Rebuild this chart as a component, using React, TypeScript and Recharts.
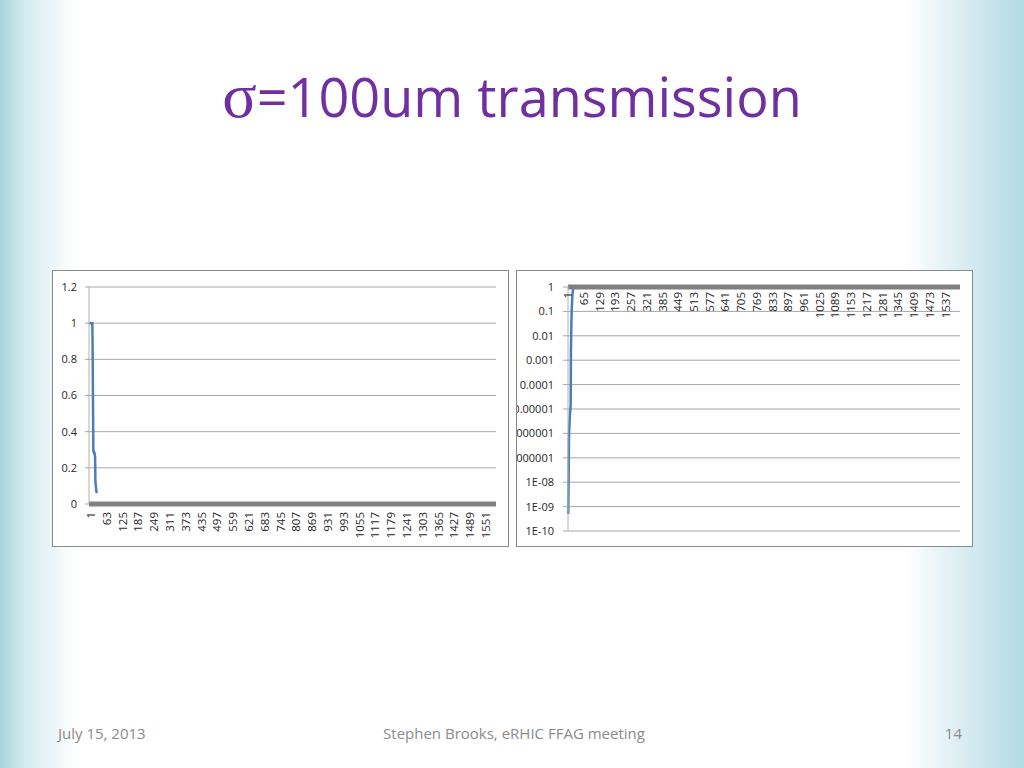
import { CartesianGrid, Line, LineChart, XAxis, YAxis } from "recharts";

// turn number (category index) for the visible part of each series
const linearTurns = [
  1, 2, 3, 4, 5, 6, 7, 8, 9, 10, 11, 12, 13, 14, 15, 16, 17, 18, 19, 20, 21,
  22, 23, 24, 25, 26, 27, 28, 29, 30,
];
const linearTransmission = [
  1, 1, 1, 1, 1, 1, 1, 1, 1, 1, 1, 1, 1, 0.9, 0.7, 0.5, 0.3, 0.29, 0.29, 0.28,
  0.28, 0.28, 0.27, 0.26, 0.13, 0.11, 0.1, 0.08, 0.07, 0.06,
];

const logTurns = [
  1, 2, 3, 4, 5, 6, 7, 8, 9, 10, 11, 12, 13, 14, 15, 16, 17, 18, 19, 20, 21,
  22, 23, 24,
];
const logTransmission = [
  5e-10, 3e-9, 4e-8, 7e-7, 1.5e-6, 2.5e-6, 4e-6, 6e-6, 8e-6, 1e-5, 1.4e-5,
  3e-3, 0.01, 0.04, 0.1, 0.2, 0.3, 0.45, 0.6, 0.7, 0.8, 0.9, 0.95, 1,
];

const linearXTicks = [
  1, 63, 125, 187, 249, 311, 373, 435, 497, 559, 621, 683, 745, 807, 869, 931,
  993, 1055, 1117, 1179, 1241, 1303, 1365, 1427, 1489, 1551,
];
const linearYTicks = [0, 0.2, 0.4, 0.6, 0.8, 1, 1.2];

const logXTicks = [
  1, 65, 129, 193, 257, 321, 385, 449, 513, 577, 641, 705, 769, 833, 897, 961,
  1025, 1089, 1153, 1217, 1281, 1345, 1409, 1473, 1537,
];
const logYTicks = [1e-10, 1e-9, 1e-8, 1e-7, 1e-6, 1e-5, 1e-4, 1e-3, 0.01, 0.1, 1];
const logYLabels = [
  "1E-10", "1E-09", "1E-08", "0.0000001", "0.000001", "0.00001", "0.0001",
  "0.001", "0.01", "0.1", "1",
];

const linearData = linearTurns.map((x, i) => ({ x, t: linearTransmission[i] }));
const logData = logTurns.map((x, i) => ({ x, t: logTransmission[i] }));

const FONT = "'Open Sans', sans-serif";
const LABEL = "#262626";
const GRID = "#a6a6a6";
const BLUE = "#4a7ebb";

function RotatedTick(props: any) {
  const { x, y, payload, shift } = props;
  return (
    <text
      x={x}
      y={y}
      dy={shift}
      transform={`rotate(-90 ${x} ${y})`}
      textAnchor="end"
      fill={LABEL}
      fontSize={11.5}
      fontFamily={FONT}
    >
      {payload.value}
    </text>
  );
}

const boxStyle: React.CSSProperties = {
  position: "absolute",
  top: 270,
  width: 457,
  height: 277,
  boxSizing: "border-box",
  border: "1px solid #8a8a8a",
  background: "#ffffff",
  overflow: "hidden",
};

function LinearChart() {
  return (
    <LineChart
      data={linearData}
      height={275}
      margin={{ top: 16, right: 12, bottom: 0, left: 0 }}
      width={455}
    >
      <CartesianGrid horizontal stroke={GRID} vertical={false} />
      <XAxis
        axisLine={{ stroke: "#808080", strokeWidth: 5 }}
        dataKey="x"
        domain={[0, 1597]}
        height={42}
        interval={0}
        tick={(p: any) => <RotatedTick {...p} shift="0.5em" />}
        tickLine={false}
        tickMargin={8}
        tickSize={0}
        ticks={linearXTicks}
        type="number"
      />
      <YAxis
        axisLine={{ stroke: "#b0b0b0" }}
        domain={[0, 1.2]}
        interval={0}
        tick={{ fill: LABEL, fontSize: 11, fontFamily: FONT }}
        tickLine={{ stroke: GRID }}
        tickMargin={8}
        tickSize={4}
        ticks={linearYTicks}
        type="number"
        width={36}
      />
      <Line
        dataKey="t"
        dot={false}
        isAnimationActive={false}
        stroke={BLUE}
        strokeWidth={2.5}
        type="linear"
      />
    </LineChart>
  );
}

function LogChart() {
  return (
    <LineChart
      data={logData}
      height={275}
      margin={{ top: 16, right: 12, bottom: 15, left: 0 }}
      width={455}
    >
      <CartesianGrid horizontal stroke={GRID} vertical={false} />
      <XAxis
        axisLine={{ stroke: "#808080", strokeWidth: 5 }}
        dataKey="x"
        domain={[0, 1596]}
        interval={0}
        mirror
        orientation="top"
        tick={(p: any) => <RotatedTick {...p} shift="0.35em" />}
        tickLine={false}
        tickMargin={5}
        tickSize={0}
        ticks={logXTicks}
        type="number"
      />
      <YAxis
        allowDataOverflow
        axisLine={{ stroke: "#b0b0b0" }}
        domain={[1e-10, 1]}
        interval={0}
        scale="log"
        tick={{ fill: LABEL, fontSize: 11, fontFamily: FONT }}
        tickFormatter={(_v: number, i: number) => logYLabels[i]}
        tickLine={{ stroke: GRID }}
        tickMargin={9}
        tickSize={5}
        ticks={logYTicks}
        type="number"
        width={51}
      />
      <Line
        dataKey="t"
        dot={false}
        isAnimationActive={false}
        stroke={BLUE}
        strokeWidth={2.5}
        type="linear"
      />
    </LineChart>
  );
}

export default function App() {
  return (
    <div
      style={{
        position: "absolute",
        left: 0,
        top: 0,
        width: 1024,
        height: 768,
        overflow: "hidden",
        background:
          "linear-gradient(to right, #a7d4de 0px, #d4ebf0 25px, #ffffff 75px, #ffffff 905px, #e2f1f4 950px, #b2dae3 1024px)",
      }}
    >
      <div
        style={{
          position: "absolute",
          left: 0,
          top: 64,
          width: 1024,
          textAlign: "center",
          color: "#7030a0",
          lineHeight: 1,
          whiteSpace: "nowrap",
        }}
      >
        <span style={{ fontFamily: "'Liberation Serif', serif", fontSize: 64 }}>σ</span>
        <span style={{ fontFamily: FONT, fontSize: 54 }}>=100um transmission</span>
      </div>

      <div style={{ ...boxStyle, left: 52 }}>
        <LinearChart />
      </div>
      <div style={{ ...boxStyle, left: 516 }}>
        <LogChart />
      </div>

      <div
        style={{
          position: "absolute",
          top: 723,
          left: 0,
          width: 1024,
          height: 20,
          lineHeight: "20px",
          fontFamily: FONT,
          fontSize: 15,
          color: "#8b8b8b",
        }}
      >
        <span style={{ position: "absolute", left: 58 }}>July 15, 2013</span>
        <span style={{ position: "absolute", left: 0, width: 1024, textAlign: "center", marginLeft: 2 }}>
          Stephen Brooks, eRHIC FFAG meeting
        </span>
        <span style={{ position: "absolute", right: 62 }}>14</span>
      </div>
    </div>
  );
}
